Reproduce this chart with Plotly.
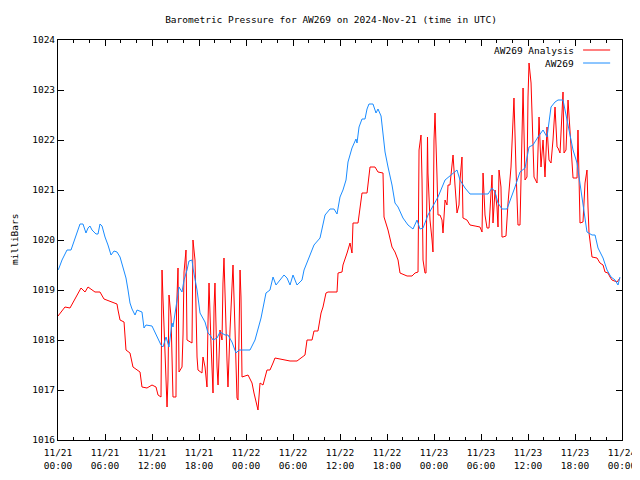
import pandas as pd
import plotly.graph_objects as go

BASE = pd.Timestamp("2024-11-21 00:00")

# Hours since 2024-11-21 00:00 UTC and pressure (mb) for the AW269 station
aw269_hours = [0.00, 0.13, 0.51, 1.15, 1.66, 2.17, 2.81, 3.19, 3.57, 3.83, 4.08, 4.34, 4.85, 5.11, 5.36, 5.62,
               6.00, 6.38, 6.77, 7.15, 7.53, 7.92, 8.30, 8.68, 8.94, 9.19, 9.45, 9.83, 10.09, 10.72, 10.98, 11.23,
               12.00, 12.64, 13.15, 13.40, 13.79, 14.17, 14.55, 14.68, 15.06, 15.45, 15.83, 16.09, 16.47, 16.72,
               17.11, 17.23, 17.75, 18.13, 18.77, 19.15, 19.40, 19.79, 20.30, 20.68, 21.32, 21.70, 22.21, 22.72,
               23.11, 24.51, 25.15, 25.92, 26.55, 27.06, 27.45, 27.83, 28.34, 28.85, 29.24, 29.62, 30.00, 30.51,
               31.15, 31.41, 31.92, 32.68, 33.45, 34.09, 34.72, 35.24, 35.62, 36.00, 36.38, 36.77, 37.02, 37.53,
               38.04, 38.17, 38.43, 38.81, 39.19, 39.45, 39.70, 40.21, 40.60, 40.85, 41.24, 41.49, 41.75, 42.13,
               42.64, 43.02, 43.41, 44.04, 44.68, 45.32, 45.83, 46.21, 46.60, 47.23, 47.87, 48.51, 49.41, 50.04,
               50.94, 51.32, 51.96, 52.60, 54.90, 55.41, 55.79, 56.17, 56.68, 57.32, 57.70, 58.34, 58.98, 59.62,
               60.13, 60.64, 61.28, 61.92, 62.43, 62.94, 63.45, 63.83, 64.47, 64.85, 65.24, 65.75, 66.26, 66.64,
               67.02, 67.53, 68.17, 68.56, 68.94, 69.58, 70.09, 70.60, 71.11, 71.49, 71.74]
aw269_mb = [1019.40, 1019.44, 1019.60, 1019.80, 1019.80, 1020.04, 1020.32, 1020.32, 1020.14, 1020.24, 1020.28,
            1020.20, 1020.12, 1020.12, 1020.32, 1020.28, 1020.06, 1019.90, 1019.70, 1019.78, 1019.76, 1019.66,
            1019.44, 1019.24, 1019.00, 1018.74, 1018.62, 1018.50, 1018.60, 1018.56, 1018.24, 1018.30, 1018.28,
            1018.06, 1017.90, 1017.86, 1018.06, 1017.86, 1018.34, 1018.26, 1018.64, 1019.06, 1018.96, 1019.20,
            1019.40, 1019.58, 1019.60, 1019.44, 1019.00, 1018.54, 1018.36, 1018.14, 1018.10, 1018.00, 1018.04,
            1018.16, 1018.10, 1018.10, 1017.96, 1017.74, 1017.80, 1017.80, 1018.00, 1018.44, 1018.94, 1019.00,
            1019.26, 1019.10, 1019.20, 1019.30, 1019.24, 1019.10, 1019.30, 1019.10, 1019.20, 1019.40, 1019.60,
            1019.90, 1020.04, 1020.50, 1020.62, 1020.62, 1020.52, 1020.86, 1021.00, 1021.20, 1021.56, 1021.84,
            1022.02, 1021.94, 1022.26, 1022.42, 1022.42, 1022.62, 1022.72, 1022.72, 1022.54, 1022.62, 1022.48,
            1022.16, 1021.76, 1021.46, 1021.10, 1020.74, 1020.66, 1020.44, 1020.30, 1020.22, 1020.40, 1020.22,
            1020.24, 1020.50, 1020.68, 1020.86, 1021.20, 1021.28, 1021.40, 1021.20, 1021.04, 1020.92, 1020.92,
            1021.04, 1020.96, 1020.74, 1020.62, 1020.62, 1020.80, 1021.06, 1021.36, 1021.44, 1021.86, 1021.90,
            1022.06, 1022.20, 1022.06, 1022.66, 1022.76, 1022.80, 1022.80, 1022.50, 1022.26, 1021.80, 1021.54,
            1021.14, 1020.66, 1020.16, 1020.10, 1020.10, 1019.84, 1019.64, 1019.40, 1019.26, 1019.20, 1019.10,
            1019.26]

analysis_hours = [0.00, 0.89, 1.53, 2.43, 2.94, 3.45, 3.83, 4.72, 5.36, 5.87, 6.64, 7.53, 7.66, 7.92, 8.43, 8.68,
                  9.19, 9.57, 10.47, 10.72, 11.36, 12.00, 12.51, 12.77, 13.15, 13.28, 13.40, 13.66, 13.92, 14.04,
                  14.17, 14.43, 14.55, 14.68, 15.06, 15.13, 15.32, 15.45, 15.83, 15.96, 16.09, 16.34, 16.47, 17.11,
                  17.23, 17.49, 17.75, 17.87, 18.38, 18.51, 18.77, 19.02, 19.15, 19.28, 19.53, 19.79, 19.92, 20.04,
                  20.30, 20.43, 20.68, 20.94, 21.06, 21.19, 21.57, 21.70, 21.96, 22.21, 22.34, 22.60, 22.85, 22.98,
                  23.11, 23.24, 23.36, 23.49, 24.26, 24.77, 25.02, 25.41, 25.53, 25.79, 26.17, 26.68, 27.06, 27.45,
                  27.70, 28.34, 29.62, 30.51, 30.89, 31.53, 31.79, 32.43, 32.68, 33.19, 33.58, 33.83, 34.21, 34.47,
                  35.62, 35.75, 36.26, 36.38, 36.90, 37.28, 37.53, 37.66, 38.30, 38.55, 38.81, 39.45, 39.70, 39.83,
                  40.47, 40.85, 41.49, 41.62, 42.13, 42.64, 43.02, 43.41, 43.66, 44.56, 45.19, 45.58, 45.96, 46.09,
                  46.34, 46.47, 46.60, 46.85, 46.98, 47.11, 47.17, 47.23, 47.49, 47.75, 47.87, 48.00, 48.13, 48.38,
                  48.51, 48.77, 49.02, 49.15, 49.41, 49.66, 49.79, 50.04, 50.30, 50.43, 50.68, 50.94, 51.19, 51.32,
                  51.57, 51.70, 52.21, 52.60, 53.24, 53.87, 54.13, 54.26, 54.51, 54.77, 55.02, 55.28, 55.41, 55.53,
                  55.79, 56.04, 56.17, 56.30, 56.55, 56.68, 56.81, 57.19, 57.45, 57.83, 58.09, 58.21, 58.47, 58.72,
                  58.98, 59.24, 59.37, 59.62, 59.87, 60.00, 60.13, 60.39, 60.64, 60.77, 61.15, 61.41, 61.66, 61.92,
                  62.17, 62.43, 62.68, 62.94, 63.19, 63.45, 63.71, 63.83, 64.09, 64.34, 64.47, 64.60, 64.85, 65.11,
                  65.36, 65.62, 65.75, 66.26, 66.38, 66.64, 67.02, 67.28, 67.53, 67.66, 67.79, 68.17, 68.81, 69.19,
                  69.58, 69.83, 70.21, 70.47, 70.72, 71.36, 71.74]
analysis_mb = [1018.48, 1018.66, 1018.64, 1018.90, 1019.04, 1018.96, 1019.06, 1018.96, 1018.96, 1018.82, 1018.78,
               1018.72, 1018.60, 1018.40, 1018.36, 1017.80, 1017.74, 1017.46, 1017.36, 1017.06, 1017.04, 1017.10,
               1017.06, 1016.90, 1016.86, 1019.40, 1018.84, 1017.54, 1016.66, 1017.20, 1018.90, 1018.46, 1017.80,
               1016.86, 1016.86, 1018.60, 1019.44, 1017.36, 1017.46, 1018.10, 1019.36, 1019.80, 1018.00, 1017.94,
               1020.00, 1019.60, 1017.66, 1017.40, 1017.34, 1017.66, 1017.46, 1017.06, 1018.36, 1019.14, 1017.94,
               1016.94, 1018.66, 1019.14, 1017.46, 1017.10, 1018.20, 1018.00, 1019.14, 1019.64, 1017.60, 1017.06,
               1018.20, 1019.20, 1019.50, 1018.20, 1016.84, 1016.80, 1018.80, 1019.40, 1018.86, 1017.26, 1017.30,
               1017.14, 1016.94, 1016.70, 1016.60, 1017.14, 1017.10, 1017.40, 1017.40, 1017.54, 1017.64, 1017.62,
               1017.58, 1017.58, 1017.62, 1017.70, 1018.00, 1018.00, 1018.18, 1018.18, 1018.54, 1018.66, 1018.94,
               1018.96, 1018.96, 1019.34, 1019.36, 1019.50, 1019.74, 1019.94, 1019.74, 1020.34, 1020.34, 1020.66,
               1020.94, 1020.94, 1021.36, 1021.46, 1021.46, 1021.36, 1021.34, 1020.46, 1020.20, 1019.86, 1019.76,
               1019.60, 1019.34, 1019.28, 1019.28, 1019.34, 1019.36, 1021.80, 1022.10, 1021.20, 1019.60, 1019.34,
               1019.34, 1021.60, 1022.06, 1021.34, 1020.40, 1020.00, 1019.76, 1022.00, 1022.54, 1021.30, 1020.50,
               1020.50, 1020.40, 1020.14, 1020.80, 1020.70, 1021.10, 1021.10, 1021.60, 1021.70, 1021.10, 1020.54,
               1020.70, 1021.20, 1021.66, 1020.44, 1020.40, 1020.30, 1020.28, 1020.26, 1020.16, 1021.34, 1020.50,
               1020.24, 1020.24, 1021.06, 1021.30, 1020.34, 1021.00, 1020.66, 1020.26, 1021.40, 1021.06, 1020.06,
               1020.06, 1020.08, 1020.74, 1021.46, 1022.60, 1022.84, 1021.40, 1020.30, 1020.30, 1022.60, 1023.04,
               1021.20, 1021.26, 1022.86, 1023.54, 1023.14, 1021.80, 1021.26, 1021.14, 1022.46, 1021.46, 1022.00,
               1021.26, 1022.26, 1021.60, 1021.54, 1022.00, 1022.66, 1021.86, 1021.84, 1021.74, 1022.80, 1022.96,
               1021.74, 1021.80, 1022.80, 1022.20, 1021.66, 1021.24, 1021.24, 1022.20, 1020.34, 1020.36, 1021.14,
               1021.40, 1020.66, 1020.14, 1019.66, 1019.64, 1019.54, 1019.50, 1019.36, 1019.34, 1019.26, 1019.20,
               1019.16, 1019.24]

tick_hours = [0, 6, 12, 18, 24, 30, 36, 42, 48, 54, 60, 66, 72]
tick_labels = ["11/21<br>00:00", "11/21<br>06:00", "11/21<br>12:00", "11/21<br>18:00",
               "11/22<br>00:00", "11/22<br>06:00", "11/22<br>12:00", "11/22<br>18:00",
               "11/23<br>00:00", "11/23<br>06:00", "11/23<br>12:00", "11/23<br>18:00",
               "11/24<br>00:00"]
series_names = ["AW269 Analysis", "AW269"]
RED = "#ff0000"
BLUE = "#1a8cff"
FONT = "DejaVu Sans Mono"
FS = 9.5

# The page body has an 8px margin, so the figure is sized to fit the 640x480 window.
FIG_W, FIG_H = 632, 472


def to_time(hours):
    return [BASE + pd.Timedelta(hours=h) for h in hours]


fig = go.Figure()
fig.add_trace(go.Scatter(x=to_time(analysis_hours), y=analysis_mb, mode="lines",
                         line=dict(color=RED, width=1), name=series_names[0], showlegend=False))
fig.add_trace(go.Scatter(x=to_time(aw269_hours), y=aw269_mb, mode="lines",
                         line=dict(color=BLUE, width=1), name=series_names[1], showlegend=False))

# gnuplot-style key: right-aligned text with line sample to its right
for i, (name, col) in enumerate(zip(series_names, [RED, BLUE])):
    ypos = 0.975 - i * 0.0325
    fig.add_annotation(xref="paper", yref="paper", x=0.918, y=ypos, text=name, showarrow=False,
                       xanchor="right", yanchor="middle", font=dict(family=FONT, size=FS, color="black"))
    fig.add_shape(type="line", xref="paper", yref="paper", x0=0.931, x1=0.979, y0=ypos, y1=ypos,
                  line=dict(color=col, width=1))

# y-axis title placed like gnuplot's
fig.add_annotation(xref="paper", yref="paper", x=-44 / 564, y=0.5, text="milliBars", showarrow=False,
                   textangle=-90, xanchor="center", yanchor="middle",
                   font=dict(family=FONT, size=FS, color="black"))

fig.update_layout(
    width=FIG_W, height=FIG_H,
    margin=dict(l=50, r=18, t=32, b=40, autoexpand=False),
    paper_bgcolor="white", plot_bgcolor="white",
    font=dict(family=FONT, size=FS, color="black"),
    title=dict(text="Barometric Pressure for AW269 on 2024-Nov-21 (time in UTC)",
               x=323 / FIG_W, xanchor="center", y=1 - 12 / FIG_H, yanchor="middle",
               font=dict(family=FONT, size=FS, color="black")),
    showlegend=False,
)
fig.update_xaxes(
    type="date", range=[BASE, BASE + pd.Timedelta(hours=72)], automargin=False,
    tickmode="array", tickvals=to_time(tick_hours), ticktext=tick_labels,
    ticks="inside", ticklen=6, tickcolor="black", tickwidth=1, ticklabelstandoff=4,
    minor=dict(ticks="inside", ticklen=3, tickcolor="black", dtick=2 * 3600 * 1000, tick0=BASE, showgrid=False),
    showline=True, linecolor="black", linewidth=1, mirror="ticks",
    showgrid=False, zeroline=False, tickfont=dict(family=FONT, size=FS),
)
fig.update_yaxes(
    range=[1016, 1024], tickmode="linear", tick0=1016, dtick=1, automargin=False,
    ticks="inside", ticklen=6, tickcolor="black", tickwidth=1,
    showline=True, linecolor="black", linewidth=1, mirror="ticks",
    showgrid=False, zeroline=False, tickfont=dict(family=FONT, size=FS),
)

fig.write_html("out.html")
